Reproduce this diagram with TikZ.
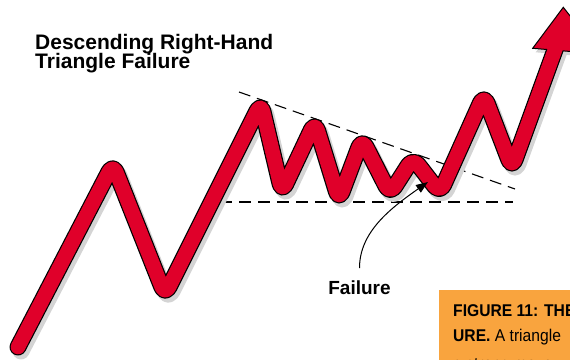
\documentclass[tikz,border=0pt]{standalone}
\usepackage{fontspec}
\setmainfont{Liberation Sans}
\newfontfamily\boxfont[FakeStretch=0.92]{Liberation Sans}
\usetikzlibrary{arrows.meta}
\definecolor{wavered}{RGB}{224,0,42}
\definecolor{shade}{RGB}{212,212,212}
\definecolor{boxorange}{RGB}{249,164,62}
\begin{document}
\begin{tikzpicture}[x=1pt,y=1pt,
  wavepath/.style={rounded corners=9pt, line cap=round, line join=round},
  shadowline/.style={wavepath, draw=shade, line width=17pt, shift={(3,-4)}},
  outline/.style={wavepath, draw=black, line width=17pt},
  fillline/.style={wavepath, draw=wavered, line width=14.6pt},
  headshadow/.style={fill=shade, shift={(3,-4)}},
  headfill/.style={fill=wavered, draw=black, line width=1pt, line join=miter},
  guide/.style={draw=black, line width=1.1pt, dash pattern=on 12pt off 7pt},
  titletext/.style={font=\bfseries\fontsize{21}{20}\selectfont, anchor=base west, inner sep=0pt},
  lbl/.style={font=\bfseries\fontsize{19}{20}\selectfont, anchor=base, inner sep=2pt},
  pointer/.style={draw=black, line width=1pt, -{Triangle[length=12pt,width=9pt]}, shorten <=10pt},
  boxtext/.style={font=\boxfont\fontsize{17}{18}\selectfont, anchor=base west, inner sep=0pt}
]
\clip (0,0) rectangle (570,359);
\def\wavepts{(18,12) -- (113,195) -- (165,64) -- (261,256) -- (282,167) -- (315,237) -- (339,159) -- (362,220) -- (390,165) -- (413,201) -- (440,166) -- (484,264) -- (512,191) -- (556,312)}
\def\headpts{(563.3,351.7) -- (600,305) -- (532.7,310.7) -- cycle}

% title
\node[titletext] (title1) at (35,309.7) {Descending Right-Hand};
\node[titletext] (title2) at (35,290.5) {Triangle Failure};

% guide lines of the triangle
\coordinate (upA) at (239,267);
\coordinate (upB) at (515,170);
\coordinate (loA) at (220,157);
\coordinate (loB) at (513,157);
\draw[guide] (upA) -- (upB);
\draw[guide] (loA) -- (loB);

% price wave
\draw[shadowline] \wavepts;
\fill[headshadow] \headpts;
\draw[outline] \wavepts;
\filldraw[headfill] \headpts;
\draw[fillline] \wavepts;

% failure label
\node[lbl] (fail) at (359.5,65) {Failure};
\coordinate (failtip) at (428,177);
\draw[pointer] (fail.north) to[out=90,in=215] (failtip);

% caption box
\fill[boxorange] (439,-1) rectangle (571,69);
\node[boxtext] (cap1) at (453,42.3) {\bfseries FIGURE 11: THE};
\node[boxtext] (cap2) at (453,18) {\bfseries URE.\mdseries{} A triangle};
\node[boxtext] (cap3) at (453,-10) {a strong move};
\end{tikzpicture}
\end{document}
